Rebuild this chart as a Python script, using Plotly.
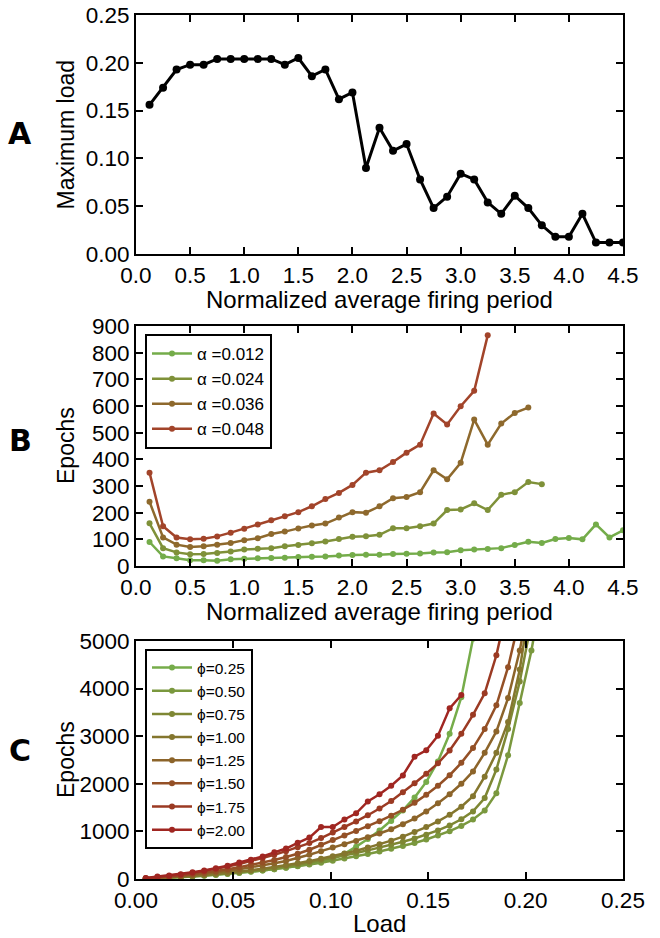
import plotly.graph_objects as go

W, H = 660, 938


def px(x):
    return x / W


def py(y):
    return 1 - y / H


# ---------------- Panel A data ----------------
A_period = [0.125, 0.25, 0.375, 0.5, 0.625, 0.75, 0.875, 1.0, 1.125, 1.25, 1.375, 1.5,
            1.625, 1.75, 1.875, 2.0, 2.125, 2.25, 2.375, 2.5, 2.625, 2.75, 2.875, 3.0,
            3.125, 3.25, 3.375, 3.5, 3.625, 3.75, 3.875, 4.0, 4.125, 4.25, 4.375, 4.5]
A_max_load = [0.156, 0.174, 0.193, 0.198, 0.198, 0.204, 0.204, 0.204, 0.204, 0.204, 0.198, 0.205,
              0.186, 0.193, 0.162, 0.169, 0.090, 0.132, 0.108, 0.115, 0.078, 0.048, 0.060, 0.084,
              0.078, 0.054, 0.042, 0.061, 0.048, 0.030, 0.018, 0.018, 0.042, 0.012, 0.012, 0.012]

# ---------------- Panel B data ----------------
B_period = A_period
B_alpha_labels = ["α =0.012", "α =0.024", "α =0.036", "α =0.048"]
B_alpha_012 = [90, 36, 29, 22, 22, 20, 25, 27, 29, 30, 31, 34, 35, 36, 39, 41, 42, 42, 45, 46,
               47, 51, 52, 59, 62, 64, 67, 79, 91, 86, 101, 105, 100, 156, 107, 134]
B_alpha_024 = [160, 67, 51, 44, 45, 49, 54, 62, 65, 67, 74, 79, 85, 92, 101, 110, 112, 117, 142, 142,
               149, 159, 210, 212, 235, 210, 267, 277, 315, 307]
B_alpha_036 = [241, 107, 80, 71, 74, 80, 86, 97, 104, 120, 129, 141, 152, 159, 182, 202, 200, 224,
               254, 259, 277, 359, 325, 387, 549, 455, 534, 574, 594]
B_alpha_048 = [350, 149, 107, 100, 102, 111, 125, 140, 156, 172, 187, 202, 224, 251, 274, 304, 350,
               359, 390, 425, 455, 572, 531, 599, 657, 865]
B_colors = ["#74ac4a", "#7f9139", "#8e692d", "#a2442a"]

# ---------------- Panel C data ----------------
C_load = [0.005, 0.011, 0.017, 0.023, 0.029, 0.035, 0.041, 0.047, 0.053, 0.059, 0.065, 0.071,
          0.077, 0.083, 0.089, 0.095, 0.101, 0.107, 0.113, 0.119, 0.125, 0.131, 0.137, 0.143,
          0.149, 0.155, 0.161, 0.167, 0.173, 0.179, 0.185, 0.191, 0.197, 0.203, 0.209]
C_phi_labels = ["ϕ=0.25", "ϕ=0.50", "ϕ=0.75", "ϕ=1.00", "ϕ=1.25", "ϕ=1.50", "ϕ=1.75", "ϕ=2.00"]
C_phi_025 = [4, 13, 25, 38, 52, 68, 86, 106, 128, 152, 178, 206, 238, 274, 316, 365, 430, 530,
             680, 840, 1020, 1220, 1440, 1710, 2040, 2470, 3050, 3820, 5050]
C_phi_050 = [4, 14, 26, 40, 55, 72, 90, 110, 132, 155, 180, 207, 236, 268, 303, 342, 385, 430,
             477, 526, 578, 633, 692, 757, 830, 912, 1005, 1115, 1250, 1440, 1800, 2600, 3700,
             4800, 6200]
C_phi_075 = [5, 16, 29, 44, 61, 80, 100, 123, 147, 173, 201, 232, 266, 304, 346, 393, 445, 495,
             548, 602, 658, 718, 782, 852, 930, 1020, 1125, 1255, 1420, 1700, 2300, 3150, 4150,
             5400]
C_phi_100 = [6, 18, 32, 48, 66, 86, 108, 132, 158, 186, 216, 250, 288, 330, 376, 428, 480, 535,
             595, 660, 730, 805, 890, 985, 1090, 1210, 1350, 1520, 1740, 2150, 2650, 3300, 4400,
             6000]
C_phi_125 = [8, 22, 40, 60, 84, 110, 140, 172, 207, 245, 285, 330, 380, 440, 510, 585, 660, 730,
             800, 875, 955, 1045, 1150, 1270, 1420, 1590, 1780, 2000, 2260, 2650, 3100, 3800, 4800,
             6100]
C_phi_150 = [10, 27, 48, 72, 100, 130, 165, 205, 248, 295, 345, 400, 462, 530, 615, 720, 820, 915,
             1010, 1110, 1215, 1330, 1455, 1600, 1770, 1960, 2180, 2440, 2750, 3150, 3650, 4450,
             5500]
C_phi_175 = [14, 35, 60, 90, 125, 165, 210, 260, 315, 375, 440, 510, 585, 665, 755, 860, 975, 1090,
             1210, 1340, 1480, 1640, 1820, 2010, 2210, 2430, 2700, 3050, 3450, 3900, 4700, 5800]
C_phi_200 = [20, 50, 72, 100, 140, 180, 228, 280, 345, 405, 475, 560, 640, 760, 870, 1090, 1090,
             1250, 1380, 1630, 1780, 1960, 2175, 2570, 2705, 3010, 3585, 3865]
C_colors = ["#76ac4a", "#7a983e", "#7e8734", "#84762e", "#8c642a", "#945026", "#9b3a23", "#a02621"]

FONT = "Liberation Sans, Arial, Helvetica, sans-serif"

fig = go.Figure()

# Panel A
fig.add_trace(go.Scatter(
    x=A_period, y=A_max_load, mode="lines+markers",
    line=dict(color="black", width=3), marker=dict(size=8, color="black"),
    showlegend=False, xaxis="x", yaxis="y"))

# Panel B
for lab, vals, col in zip(B_alpha_labels, [B_alpha_012, B_alpha_024, B_alpha_036, B_alpha_048], B_colors):
    fig.add_trace(go.Scatter(
        x=B_period[:len(vals)], y=vals, mode="lines+markers", name=lab,
        line=dict(color=col, width=2.5), marker=dict(size=6, color=col),
        legend="legend2", xaxis="x2", yaxis="y2"))

# Panel C
C_series = [C_phi_025, C_phi_050, C_phi_075, C_phi_100, C_phi_125, C_phi_150, C_phi_175, C_phi_200]
for lab, vals, col in zip(C_phi_labels, C_series, C_colors):
    fig.add_trace(go.Scatter(
        x=C_load[:len(vals)], y=vals, mode="lines+markers", name=lab,
        line=dict(color=col, width=2.5), marker=dict(size=6, color=col),
        legend="legend3", xaxis="x3", yaxis="y3"))

ax = dict(showline=True, linecolor="black", linewidth=2, mirror="ticks", ticks="inside",
          ticklen=7, tickwidth=1.5, tickcolor="black", showgrid=False, zeroline=False,
          automargin=False, tickfont=dict(family=FONT, size=22.5, color="black"))
xdom = [px(136), px(623)]

fig.update_layout(
    width=W, height=H, margin=dict(l=0, r=0, t=0, b=0, pad=0, autoexpand=False),
    paper_bgcolor="white", plot_bgcolor="white",
    font=dict(family=FONT, color="black"),
    xaxis=dict(ax, domain=xdom, anchor="y", range=[0, 4.5], dtick=0.5, tick0=0, tickformat=".1f"),
    yaxis=dict(ax, domain=[py(254), py(15)], anchor="x", range=[0, 0.25], dtick=0.05, tick0=0, tickformat=".2f"),
    xaxis2=dict(ax, domain=xdom, anchor="y2", range=[0, 4.5], dtick=0.5, tick0=0, tickformat=".1f"),
    yaxis2=dict(ax, domain=[py(566), py(326)], anchor="x2", range=[0, 900], dtick=100, tick0=0),
    xaxis3=dict(ax, domain=xdom, anchor="y3", range=[0, 0.25], dtick=0.05, tick0=0, tickformat=".2f"),
    yaxis3=dict(ax, domain=[py(879), py(641)], anchor="x3", range=[0, 5000], dtick=1000, tick0=0),
    legend2=dict(x=px(145), y=py(334), xanchor="left", yanchor="top", bordercolor="black",
                 borderwidth=2, bgcolor="white", font=dict(family=FONT, size=17), itemwidth=40),
    legend3=dict(x=px(145), y=py(649), xanchor="left", yanchor="top", bordercolor="black",
                 borderwidth=2, bgcolor="white", font=dict(family=FONT, size=15.5), itemwidth=40),
)

annots = []
# panel letters
for letter, yc in [("A", 134), ("B", 440), ("C", 750)]:
    annots.append(dict(text="<b>%s</b>" % letter, x=px(20), y=py(yc), xref="paper", yref="paper",
                       showarrow=False, xanchor="center", yanchor="middle",
                       font=dict(family="DejaVu Sans, sans-serif", size=30, color="black")))
# x titles
for txt, yc in [("Normalized average firing period", 299), ("Normalized average firing period", 611),
                ("Load", 923)]:
    annots.append(dict(text=txt, x=px(379.5), y=py(yc), xref="paper", yref="paper",
                       showarrow=False, xanchor="center", yanchor="middle",
                       font=dict(family=FONT, size=24, color="black")))
# y titles
for txt, yc in [("Maximum load", 134.5), ("Epochs", 446), ("Epochs", 760)]:
    annots.append(dict(text=txt, x=px(66), y=py(yc), xref="paper", yref="paper",
                       showarrow=False, xanchor="center", yanchor="middle", textangle=-90,
                       font=dict(family=FONT, size=23, color="black")))
fig.update_layout(annotations=annots)

fig.write_html("out.html", config={"displayModeBar": False},
               post_script="document.body.style.margin='0';document.body.style.overflow='hidden';")
